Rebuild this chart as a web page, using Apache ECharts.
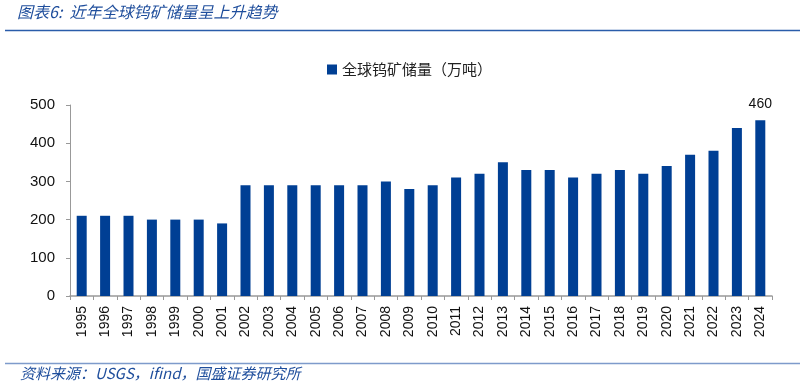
<!DOCTYPE html>
<html><head><meta charset="utf-8">
<script src="https://cdn.jsdelivr.net/npm/echarts@6/dist/echarts.min.js"></script>
<style>html,body{margin:0;padding:0;background:#fff}#c{width:810px;height:388px}</style>
</head><body><div id="c"></div>
<script>
const categories = ['1995','1996','1997','1998','1999','2000','2001','2002','2003','2004','2005','2006','2007','2008','2009','2010','2011','2012','2013','2014','2015','2016','2017','2018','2019','2020','2021','2022','2023','2024'];
const reserves = [210,210,210,200,200,200,190,290,290,290,290,290,290,300,280,290,310,320,350,330,330,310,320,330,320,340,370,380,440,460];
const seriesName = '全球钨矿储量（万吨）';
const titleText = '图表6:  近年全球钨矿储量呈上升趋势';
const sourceText = '资料来源：USGS，ifind，国盛证券研究所';

const chart = echarts.init(document.getElementById('c'));
const cjk = '"Noto Sans CJK SC", sans-serif';
chart.setOption({
  animation: false,
  textStyle: { fontFamily: '"Liberation Sans", ' + cjk },
  graphic: [
    { type: 'text', left: 17, top: 4, style: { text: titleText, font: 'italic 16px "Noto Sans CJK SC"', fill: '#1f4e9c' } },
    { type: 'line', shape: { x1: 5, y1: 30.5, x2: 800, y2: 30.5 }, style: { stroke: '#2a5caa', lineWidth: 1.5 } },
    { type: 'line', shape: { x1: 5, y1: 363.5, x2: 800, y2: 363.5 }, style: { stroke: '#7e9bcb', lineWidth: 1.5 } },
    { type: 'text', left: 20, top: 366, style: { text: sourceText, font: 'italic 15px "Noto Sans CJK SC"', fill: '#1f4e9c' } }
  ],
  legend: {
    top: 57, left: 322,
    itemWidth: 10, itemHeight: 10, itemGap: 3,
    icon: 'rect',
    textStyle: { fontSize: 15, color: '#222', fontFamily: cjk },
    data: [seriesName]
  },
  grid: { left: 70, right: 38, top: 105, bottom: 92, containLabel: false },
  xAxis: {
    type: 'category', data: categories,
    axisLine: { lineStyle: { color: '#999', width: 1.5 } },
    axisTick: { show: true, alignWithLabel: false, length: 4, lineStyle: { color: '#999' } },
    axisLabel: { rotate: 90, fontSize: 14, color: '#111', margin: 10, fontFamily: '"Liberation Sans", "DejaVu Sans"' }
  },
  yAxis: {
    type: 'value', min: 0, max: 500, interval: 100,
    splitLine: { show: false },
    axisLine: { show: true, lineStyle: { color: '#999' } },
    axisTick: { show: true, length: 4, lineStyle: { color: '#999' } },
    axisLabel: { fontSize: 15, color: '#111', margin: 15, fontFamily: '"Liberation Sans", "DejaVu Sans"' }
  },
  series: [{
    name: seriesName, type: 'bar', data: reserves.map((v, i) => i === reserves.length - 1 ? { value: v, label: { show: true } } : v),
    barWidth: 10,
    itemStyle: { color: '#003f94' },
    label: { show: false, position: 'top', fontSize: 14, color: '#111', distance: 9, fontFamily: '"Liberation Sans", "DejaVu Sans"' }
  }]
});
</script></body></html>
